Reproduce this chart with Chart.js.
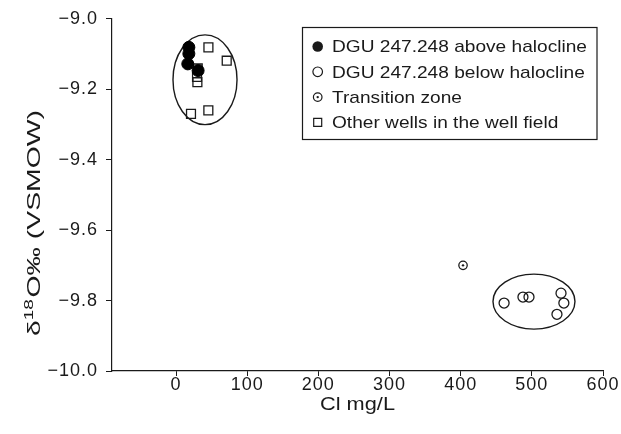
<!DOCTYPE html>
<html>
<head>
<meta charset="utf-8">
<script src="https://cdn.jsdelivr.net/npm/chart.js@4.4.1/dist/chart.umd.min.js"></script>
<style>
  html, body { margin: 0; padding: 0; background: #ffffff; }
  #wrap { width: 621px; height: 434px; }
</style>
</head>
<body>
<div id="wrap"><canvas id="c" width="621" height="434"></canvas></div>
<script>
// ---- data ----
const aboveX = [18, 18, 16.5, 31];
const aboveY = [-9.081, -9.099, -9.128, -9.147];

const belowX = [461, 487.5, 496, 541, 545, 535.3];
const belowY = [-9.807, -9.790, -9.790, -9.779, -9.807, -9.839];

const transX = [403.3];
const transY = [-9.700];

const otherX = [45.5, 71.2, 30.5, 29.5, 30, 21, 45.4];
const otherY = [-9.081, -9.119, -9.141, -9.165, -9.180, -9.270, -9.260];

// grouping ellipses (centre and half-axes in data units)
const ellipseCX = [40.7, 503];
const ellipseCY = [-9.173, -9.803];
const ellipseRX = [45, 57.6];
const ellipseRY = [0.1275, 0.078];

const xTicks = [0, 100, 200, 300, 400, 500, 600];
const yTicks = [-10.0, -9.8, -9.6, -9.4, -9.2, -9.0];

const seriesLabels = [
  'DGU 247.248 above halocline',
  'DGU 247.248 below halocline',
  'Transition zone',
  'Other wells in the well field'
];
const xTitle = 'Cl mg/L';

// ---- helpers ----
const FONT = '"Liberation Sans", Arial, Helvetica, sans-serif';
const INK = '#1a1a1a';
const pts = (xs, ys) => xs.map((x, i) => ({ x: x, y: ys[i] }));

const ellipsePlugin = {
  id: 'ellipses',
  beforeDatasetsDraw(chart) {
    const { ctx, scales: { x, y } } = chart;
    ctx.save();
    ctx.strokeStyle = INK;
    ctx.lineWidth = 1.4;
    for (let i = 0; i < ellipseCX.length; i++) {
      const cx = x.getPixelForValue(ellipseCX[i]);
      const cy = y.getPixelForValue(ellipseCY[i]);
      const rx = Math.abs(x.getPixelForValue(ellipseCX[i] + ellipseRX[i]) - cx);
      const ry = Math.abs(y.getPixelForValue(ellipseCY[i] + ellipseRY[i]) - cy);
      ctx.beginPath();
      ctx.ellipse(cx, cy, rx, ry, 0, 0, Math.PI * 2);
      ctx.stroke();
    }
    ctx.restore();
  }
};

const textPlugin = {
  id: 'texts',
  beforeDraw(chart) {
    chart.ctx.letterSpacing = '1px';
  },
  afterDraw(chart) {
    const ctx = chart.ctx;
    const ca = chart.chartArea;
    ctx.save();
    ctx.letterSpacing = '0px';
    ctx.fillStyle = INK;

    // x-axis title
    ctx.font = '18px ' + FONT;
    ctx.textBaseline = 'alphabetic';
    ctx.textAlign = 'left';
    let w = ctx.measureText(xTitle).width;
    let sx = 75 / w;
    ctx.save();
    ctx.translate((ca.left + ca.right) / 2, 409.5);
    ctx.scale(sx, 1);
    ctx.fillText(xTitle, -w / 2, 0);
    ctx.restore();

    // y-axis title: δ18O‰ (VSMOW) with superscript
    const big = '18px ' + FONT, small = '12px ' + FONT;
    const p1 = 'δ', p2 = '18', p3 = 'O‰ (VSMOW)';
    ctx.font = big; const w1 = ctx.measureText(p1).width; const w3 = ctx.measureText(p3).width;
    ctx.font = small; const w2 = ctx.measureText(p2).width + 1;
    const tw = w1 + w2 + w3;
    const sy = 226 / tw;
    ctx.save();
    ctx.translate(40, 223);
    ctx.rotate(-Math.PI / 2);
    ctx.scale(sy, 1);
    let x0 = -tw / 2;
    ctx.font = big; ctx.fillText(p1, x0, 0); x0 += w1;
    ctx.font = small; ctx.fillText(p2, x0, -7); x0 += w2;
    ctx.font = big; ctx.fillText(p3, x0, 0);
    ctx.restore();

    // legend box
    const bx = 302.5, by = 27.5, bw = 294.5, bh = 112;
    ctx.strokeStyle = INK;
    ctx.lineWidth = 1.2;
    ctx.strokeRect(bx, by, bw, bh);
    const rowY = [46.5, 71.8, 97.1, 122.4];
    const mx = 317.7, tx = 332;
    ctx.font = '17px ' + FONT;
    const lw = ctx.measureText(seriesLabels[0]).width;
    const ls = 255 / lw;
    for (let i = 0; i < 4; i++) {
      const yy = rowY[i];
      ctx.lineWidth = 1.2;
      ctx.beginPath();
      if (i === 0) {
        ctx.arc(mx, yy, 5.3, 0, Math.PI * 2); ctx.fill();
      } else if (i === 1) {
        ctx.arc(mx, yy, 4.8, 0, Math.PI * 2); ctx.stroke();
      } else if (i === 2) {
        ctx.arc(mx, yy, 4.3, 0, Math.PI * 2); ctx.stroke();
        ctx.beginPath(); ctx.arc(mx, yy, 1.2, 0, Math.PI * 2); ctx.fill();
      } else {
        ctx.rect(mx - 4, yy - 4, 8, 8); ctx.stroke();
      }
      ctx.save();
      ctx.translate(tx, yy + 5.8);
      ctx.scale(ls, 1);
      ctx.fillText(seriesLabels[i], 0, 0);
      ctx.restore();
    }
    ctx.restore();
  }
};

const axisCommon = {
  grid: { display: true, drawOnChartArea: false, drawTicks: true, color: INK, lineWidth: 1 },
  border: { display: true, color: INK, width: 1.2 }
};

new Chart(document.getElementById('c'), {
  type: 'scatter',
  data: {
    datasets: [
      { label: seriesLabels[0], data: pts(aboveX, aboveY), pointStyle: 'circle', pointRadius: 6,
        backgroundColor: '#000', borderColor: '#000', borderWidth: 1 },
      { label: seriesLabels[1], data: pts(belowX, belowY), pointStyle: 'circle', pointRadius: 5,
        backgroundColor: 'rgba(0,0,0,0)', borderColor: INK, borderWidth: 1.3 },
      { label: seriesLabels[2], data: pts(transX, transY), pointStyle: 'circle', pointRadius: 4.2,
        backgroundColor: 'rgba(0,0,0,0)', borderColor: INK, borderWidth: 1.3 },
      { label: seriesLabels[2] + ' (centre)', data: pts(transX, transY), pointStyle: 'circle', pointRadius: 1.2,
        backgroundColor: INK, borderColor: INK, borderWidth: 0 },
      { label: seriesLabels[3], data: pts(otherX, otherY), pointStyle: 'rect', pointRadius: 6.3,
        backgroundColor: 'rgba(255,255,255,0)', borderColor: INK, borderWidth: 1.3 }
    ]
  },
  options: {
    responsive: false,
    animation: false,
    events: [],
    layout: { padding: { left: 0, top: 18, right: 18, bottom: 0 } },
    plugins: { legend: { display: false }, tooltip: { enabled: false }, title: { display: false } },
    scales: {
      x: {
        type: 'linear', min: -90, max: 600,
        ...axisCommon,
        grid: { ...axisCommon.grid, tickLength: 5 },
        afterBuildTicks: s => { s.ticks = xTicks.map(v => ({ value: v })); },
        afterFit: s => { s.height = 63; },
        ticks: { color: INK, font: { family: FONT, size: 18, lineHeight: 1 }, padding: 0.5, maxRotation: 0, autoSkip: false }
      },
      y: {
        type: 'linear', min: -10, max: -9,
        ...axisCommon,
        grid: { ...axisCommon.grid, tickLength: 6 },
        afterBuildTicks: s => { s.ticks = yTicks.map(v => ({ value: v })); },
        afterFit: s => { s.width = 112; },
        ticks: { color: INK, font: { family: FONT, size: 18 }, padding: 8, autoSkip: false,
          callback: v => (v < 0 ? '\u2212' : '') + Math.abs(v).toFixed(1) }
      }
    }
  },
  plugins: [ellipsePlugin, textPlugin]
});
</script>
</body>
</html>
